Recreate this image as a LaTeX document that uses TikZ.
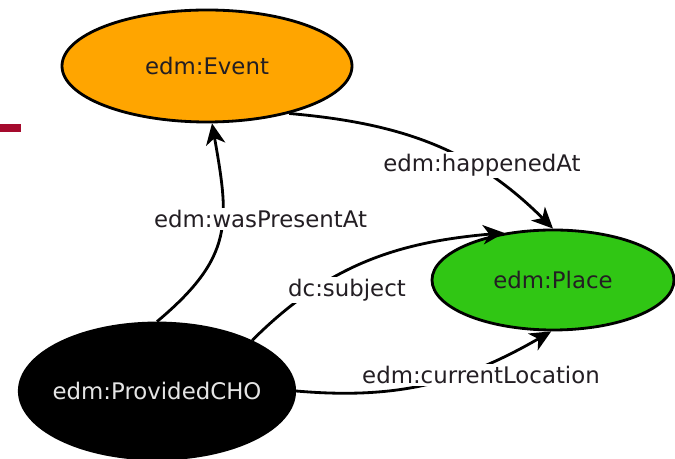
\documentclass[tikz,border=0pt]{standalone}
\usepackage{fontspec}
\setmainfont{DejaVu Sans}
\usetikzlibrary{shapes.geometric,arrows.meta}

\definecolor{evorange}{RGB}{255,165,0}
\definecolor{plgreen}{RGB}{48,198,20}
\definecolor{barred}{RGB}{165,10,45}
\definecolor{txtdark}{RGB}{35,30,35}

\begin{document}
\begin{tikzpicture}[>={Stealth[length=12pt,width=11pt,inset=3.5pt]},
    font=\fontsize{13}{15}\selectfont,
    cls/.style={ellipse,draw=black,line width=1.6pt,inner sep=0pt},
    lbl/.style={fill=white,inner sep=1pt,text=txtdark},
    rel/.style={->,line width=1.6pt}]
   \useasboundingbox (0,0) rectangle (13.5,9.18);
   \fill[barred] (0,6.54) rectangle (0.42,6.70);

   % クラス
   \node[cls,fill=evorange,text=txtdark,minimum width=5.8cm,minimum height=2.24cm] (event) at (4.14,7.86) {edm:Event};
   \node[cls,fill=plgreen,text=txtdark,minimum width=4.84cm,minimum height=2.0cm] (place) at (11.06,3.58) {edm:Place};
   \node[cls,fill=black,text=white!90!black,inner xsep=-4pt,minimum width=5.48cm,minimum height=2.72cm] (cho) at (3.14,1.36) {edm:ProvidedCHO};

   % プロパティ
   \draw[rel] (cho.north) to[out=40,in=-80,looseness=1.25] (event.-85);
   \draw[rel] (event.-30) to[out=-5,in=135] (place.north);
   \draw[rel] (cho.28) to[out=45,in=185] (place.136);
   \draw[rel] (cho.east) to[out=-5,in=-150] (place.-92);

   % ラベル
   \node[lbl] (presentAt) at (5.21,4.80) {edm:wasPresentAt};
   \node[lbl] (happenedAt) at (9.64,5.88) {edm:happenedAt};
   \node[lbl] (subject) at (6.94,3.38) {dc:subject};
   \node[lbl] (location) at (9.62,1.68) {edm:currentLocation};
\end{tikzpicture}
\end{document}
